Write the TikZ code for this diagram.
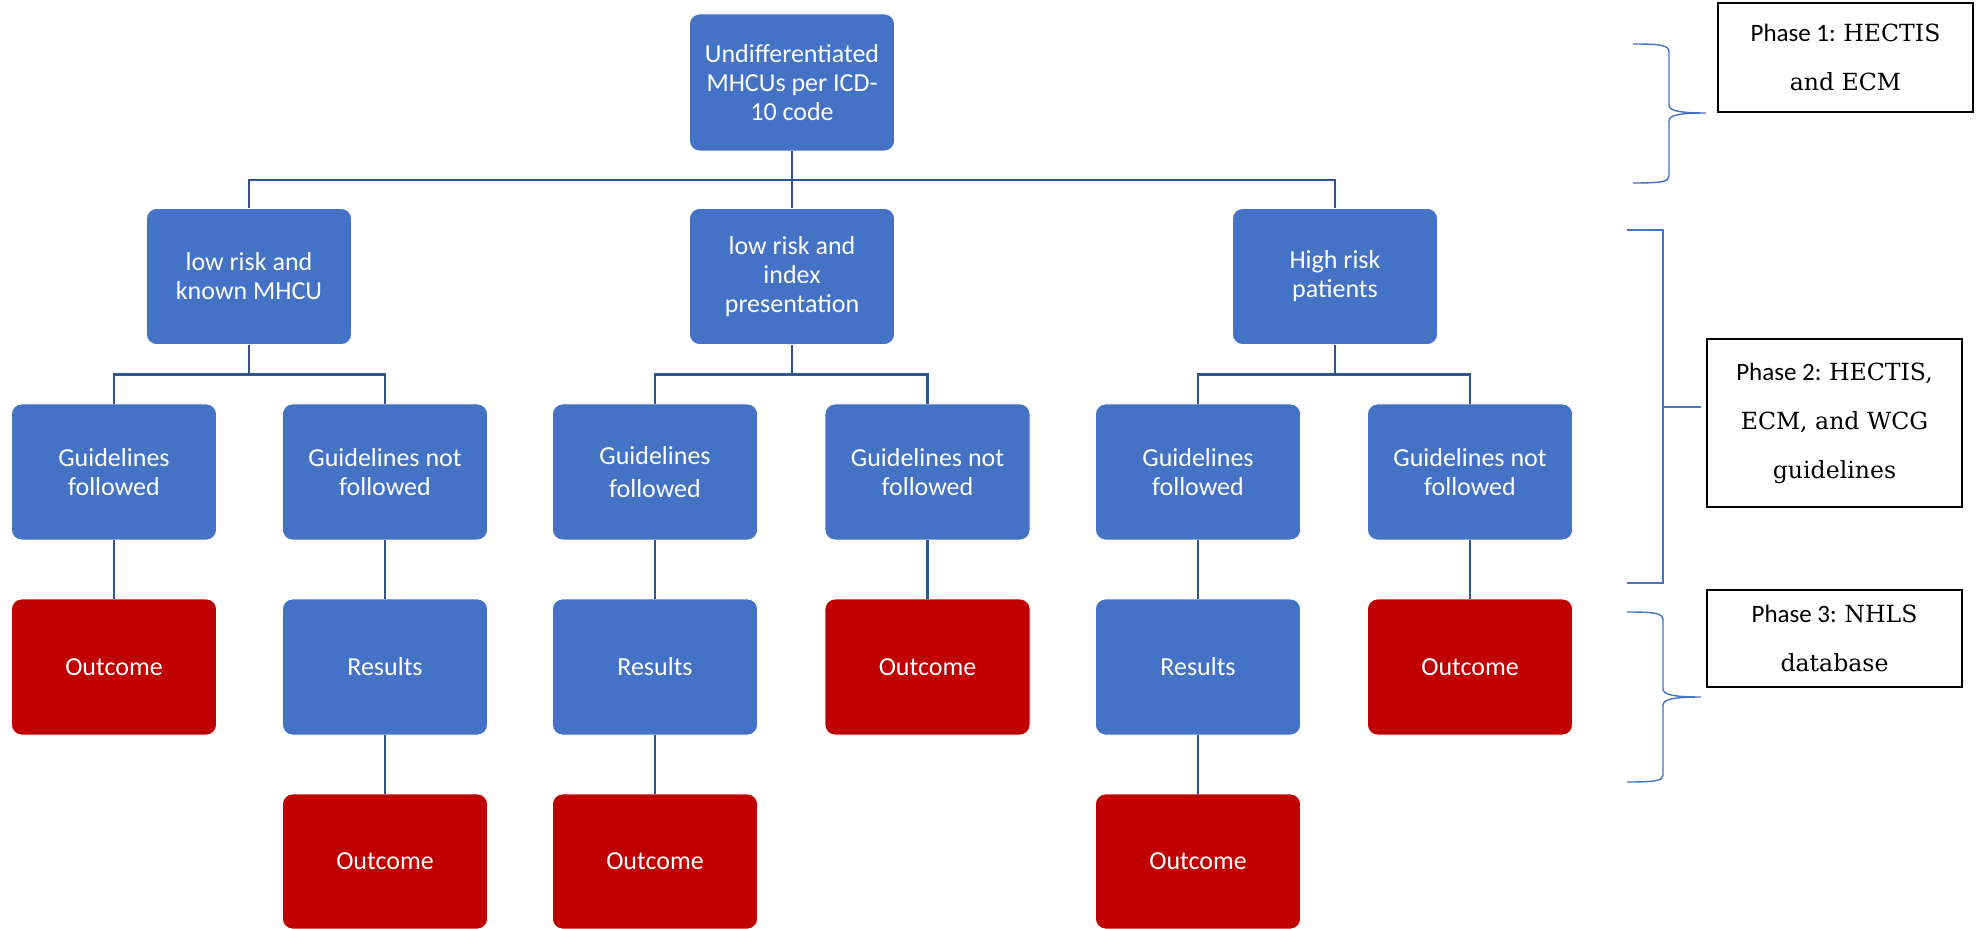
\documentclass[tikz,border=0pt]{standalone}
\usepackage{fontspec}
\setmainfont{Carlito}
\newfontfamily\serifph{DejaVu Serif}
\definecolor{boxblue}{HTML}{4472C4}
\definecolor{boxred}{HTML}{C00000}
\definecolor{linkblue}{HTML}{2F5597}
\begin{document}
\begin{tikzpicture}[x=0.5pt,y=-0.5pt,
 bx/.style={rectangle, rounded corners=5pt, fill=boxblue, draw=white, line width=0.4pt, minimum width=102.5pt, minimum height=68pt, text=white, align=center, font=\fontsize{13}{14.5}\selectfont, inner sep=2pt},
 rd/.style={bx, fill=boxred},
 link/.style={draw=linkblue, line width=1.2pt},
 phase/.style={rectangle, draw=black, line width=0.9pt, minimum width=127.5pt, align=center, font=\fontsize{12.5}{24.5}\selectfont},
 brace/.style={draw=boxblue, line width=0.7pt}]
\useasboundingbox (0,0) rectangle (1984,929);
% top
\node[bx, minimum height=68.5pt] (top) at (792,82.5) {Undifferentiated\\MHCUs per ICD-\\10 code};
% row 1
\node[bx] (r1a) at (249,276.5) {low risk and\\known MHCU};
\node[bx] (r1b) at (792,276.5) {low risk and\\index\\presentation};
\node[bx] (r1c) at (1335,276.5) {High risk\\patients};
% row 2
\node[bx] (g1) at (114,472) {Guidelines\\followed};
\node[bx] (g2) at (385,472) {Guidelines not\\followed};
\node[bx] (g3) at (655,472) {Guidelines\\[2pt]followed};
\node[bx] (g4) at (927.5,472) {Guidelines not\\followed};
\node[bx] (g5) at (1198,472) {Guidelines\\followed};
\node[bx] (g6) at (1470,472) {Guidelines not\\followed};
% row 3
\node[rd] (o1) at (114,667) {Outcome};
\node[bx] (s2) at (385,667) {Results};
\node[bx] (s3) at (655,667) {Results};
\node[rd] (o4) at (927.5,667) {Outcome};
\node[bx] (s5) at (1198,667) {Results};
\node[rd] (o6) at (1470,667) {Outcome};
% row 4
\node[rd, minimum height=67.5pt] (o2) at (385,861.5) {Outcome};
\node[rd, minimum height=67.5pt] (o3) at (655,861.5) {Outcome};
\node[rd, minimum height=67.5pt] (o5) at (1198,861.5) {Outcome};
% junctions
\coordinate (j0) at (792,180);
\coordinate (ja) at (249,374.5);
\coordinate (jb) at (792,374.5);
\coordinate (jc) at (1335,374.5);
% connectors
\draw[link] (top.south) -- (r1b.north);
\draw[link] (r1a.north) |- (j0) -| (r1c.north);
\draw[link] (r1a.south) -- (ja);
\draw[link] (g1.north) |- (ja) -| (g2.north);
\draw[link] (r1b.south) -- (jb);
\draw[link] (g3.north) |- (jb) -| (g4.north);
\draw[link] (r1c.south) -- (jc);
\draw[link] (g5.north) |- (jc) -| (g6.north);
\draw[link] (g1) -- (o1);
\draw[link] (g2) -- (s2);
\draw[link] (g3) -- (s3);
\draw[link] (g4) -- (o4);
\draw[link] (g5) -- (s5);
\draw[link] (g6) -- (o6);
\draw[link] (s2) -- (o2);
\draw[link] (s3) -- (o3);
\draw[link] (s5) -- (o5);
% phase boxes
\node[phase, minimum height=54.5pt] (p1) at (1845.5,57.5) {Phase 1: {\serifph\fontsize{11.8}{24.5}\selectfont HECTIS}\\{\serifph\fontsize{11.8}{24.5}\selectfont and ECM}};
\node[phase, minimum height=84pt] (p2) at (1834.5,423) {Phase 2: {\serifph\fontsize{11.8}{24.5}\selectfont HECTIS,}\\{\serifph\fontsize{11.8}{24.5}\selectfont ECM, and WCG}\\{\serifph\fontsize{11.8}{24.5}\selectfont guidelines}};
\node[phase, minimum height=48.5pt] (p3) at (1834.5,638.5) {Phase 3: {\serifph\fontsize{11.8}{24.5}\selectfont NHLS}\\{\serifph\fontsize{11.8}{24.5}\selectfont database}};
% braces
\draw[brace] (1633,44) .. controls (1660,44) and (1669,45) .. (1669,52) -- (1669,105) .. controls (1669,111) and (1680,113) .. (1706,113) .. controls (1680,113) and (1669,115) .. (1669,121) -- (1669,176) .. controls (1669,182) and (1660,183) .. (1633,183);
\draw[brace] (1627,230) -- (1663,230) -- (1663,583) -- (1627,583);
\draw[brace] (1663,407) -- (1701,407);
\draw[brace] (1627,612) .. controls (1654,612) and (1663,613) .. (1663,620) -- (1663,689) .. controls (1663,695) and (1675,697) .. (1701,697) .. controls (1675,697) and (1663,699) .. (1663,705) -- (1663,775) .. controls (1663,781) and (1654,782) .. (1627,782);
\end{tikzpicture}
\end{document}
